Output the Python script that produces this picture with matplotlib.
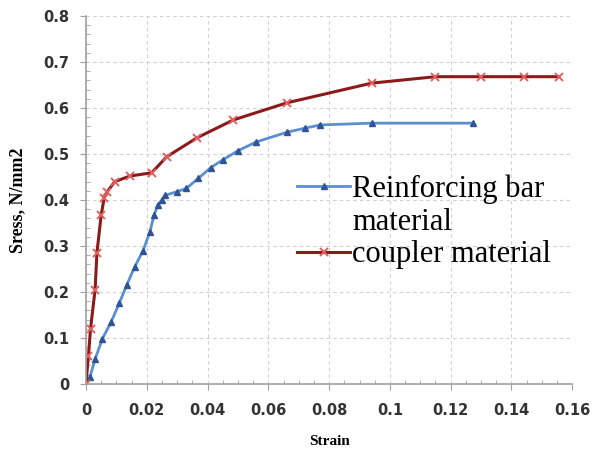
import matplotlib
matplotlib.use("Agg")
import matplotlib.pyplot as plt
from matplotlib.lines import Line2D
from matplotlib.ticker import MultipleLocator

# datos
bar_strain = [0, 0.0013, 0.003, 0.0054, 0.0083, 0.011, 0.0134, 0.016, 0.0188,
              0.021, 0.0224, 0.0237, 0.025, 0.026, 0.030, 0.033, 0.037, 0.041,
              0.045, 0.050, 0.056, 0.066, 0.072, 0.077, 0.094, 0.1275]
bar_stress = [0, 0.015, 0.054, 0.098, 0.135, 0.176, 0.215, 0.254, 0.29,
              0.33, 0.367, 0.39, 0.40, 0.41, 0.418, 0.425, 0.447, 0.47,
              0.487, 0.507, 0.526, 0.547, 0.556, 0.563, 0.567, 0.567]

coupler_strain = [0, 0.0008, 0.0015, 0.003, 0.0036, 0.005, 0.006, 0.007, 0.0095,
                  0.0145, 0.0216, 0.0266, 0.0365, 0.0485, 0.066, 0.094, 0.115,
                  0.130, 0.144, 0.1555]
coupler_stress = [0, 0.06, 0.12, 0.205, 0.285, 0.367, 0.405, 0.418, 0.44,
                  0.452, 0.459, 0.494, 0.535, 0.574, 0.611, 0.654, 0.668,
                  0.668, 0.668, 0.668]

fig = plt.figure(figsize=(5.93, 4.57), dpi=100)
ax = fig.add_axes([0.145, 0.16, 0.82, 0.805])

l_bar, = ax.plot(bar_strain, bar_stress, color="#5b8fd0", lw=2, marker="^", ms=4.5,
                 mfc="#2f5597", mec="#2f5597")
l_cpl, = ax.plot(coupler_strain, coupler_stress, color="#8b1a1a", lw=2.2, marker="x", ms=5.5,
                 mec="#e06060", mew=1.4)

ax.set_xlim(0, 0.16)
ax.set_ylim(0, 0.8)
ax.xaxis.set_major_locator(MultipleLocator(0.02))
ax.yaxis.set_major_locator(MultipleLocator(0.1))
ax.xaxis.set_minor_locator(MultipleLocator(0.005))
ax.yaxis.set_minor_locator(MultipleLocator(0.02))
fmt = plt.FuncFormatter(lambda v, p: "0" if v == 0 else f"{v:g}")
ax.xaxis.set_major_formatter(fmt)
ax.yaxis.set_major_formatter(fmt)

ax.grid(True, which="major", ls=(0, (3, 3)), color="#d0d0d0", lw=0.8)
for s in ["top", "right"]:
    ax.spines[s].set_visible(False)
for s in ["left", "bottom"]:
    ax.spines[s].set_color("#a0a0a0")
    ax.spines[s].set_linewidth(1.2)
ax.tick_params(which="major", direction="out", length=4, color="#a0a0a0",
               labelsize=10.5)
ax.tick_params(axis="x", which="major", pad=10)
ax.tick_params(axis="y", which="major", pad=8)
ax.tick_params(which="minor", direction="in", length=3, color="#a0a0a0")
for t in ax.get_xticklabels() + ax.get_yticklabels():
    t.set_fontweight("bold")
    t.set_color("#333333")

ax.set_xlabel("Strain", family="Liberation Serif", fontweight="bold", fontsize=11, labelpad=12)
ax.set_ylabel("Sress, N/mm2", family="Liberation Serif", fontweight="bold", fontsize=13, labelpad=12)

# leyenda estilo excel: el simbolo va con la primera linea
vacio = Line2D([], [], color="none")
ax.legend([l_bar, vacio, l_cpl], ["Reinforcing bar", "material", "coupler material"],
          loc="center left", bbox_to_anchor=(0.434, 0.44), frameon=False,
          prop={"family": "Liberation Serif", "size": 22},
          handlelength=1.75, handletextpad=0.05, labelspacing=0.12,
          borderpad=0, borderaxespad=0)

fig.savefig("out.png", dpi=100)
